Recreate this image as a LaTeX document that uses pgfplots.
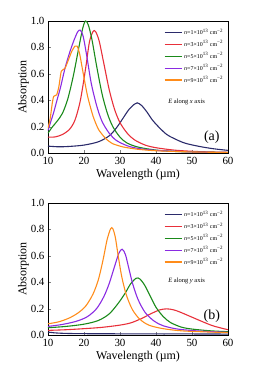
\documentclass[border=0pt]{standalone}
\usepackage{fontspec}
\setmainfont{Liberation Serif}
\usepackage{pgfplots}
\pgfplotsset{compat=1.18}
\definecolor{cnavy}{HTML}{2B2B6B}
\definecolor{cred}{HTML}{E8303A}
\definecolor{cgreen}{HTML}{1A8A1A}
\definecolor{cpurple}{HTML}{8A2BE2}
\definecolor{corange}{HTML}{FF8C1A}
\newcommand{\leg}[1]{\textit{n}=#1×10\textsuperscript{13} cm\textsuperscript{−2}}
\pgfplotsset{
  myaxis/.style={
    scale only axis, width=180bp, height=132bp,
    xmin=10, xmax=60, ymin=0, ymax=1,
    xtick={10,20,...,60}, ytick={0,0.2,...,1.0},
    yticklabel style={/pgf/number format/.cd, fixed, fixed zerofill, precision=1},
    /pgf/number format/assume math mode=true,
    tick align=inside, tick pos=left,
    major tick length=3bp,
    tick label style={font=\fontsize{11}{12}\selectfont},
    xticklabel style={yshift=-0.5bp},
    label style={font=\fontsize{12}{13}\selectfont},
    xlabel={Wavelength (µm)}, ylabel={Absorption},
    xlabel style={yshift=2bp},
    ylabel style={yshift=-5bp},
    legend style={draw=none, fill=none, at={(0.99,0.965)}, anchor=north east,
      font=\fontsize{6}{6.5}\selectfont, row sep=0.6bp, inner sep=1bp},
    legend cell align=left,
    legend image code/.code={\draw[#1] (0bp,0bp) -- (17bp,0bp);},
    every axis plot/.append style={line width=1.1pt, smooth},
  }
}
\begin{document}
\begin{tikzpicture}
\path[use as bounding box] (-48bp,-213bp) rectangle (215bp,153bp);
\begin{axis}[myaxis, at={(0,0)}, anchor=south west]
\addplot[cnavy] coordinates {(10,0.052) (13,0.047) (16,0.05) (20,0.06) (24,0.085) (27,0.13) (29,0.19) (31,0.27) (32.5,0.33) (34,0.37) (34.8,0.38) (36,0.36) (37.5,0.31) (39,0.25) (41,0.19) (43,0.14) (45,0.11) (48,0.075) (52,0.05) (56,0.032) (60,0.02)};
\addplot[cred] coordinates {(10,0.12) (12,0.122) (14,0.14) (16,0.18) (17.5,0.25) (19,0.4) (20.5,0.65) (21.5,0.84) (22.5,0.92) (23.2,0.92) (24.2,0.85) (25.5,0.68) (27,0.48) (28.5,0.33) (30,0.23) (32,0.15) (34,0.1) (37,0.06) (40,0.04) (45,0.022) (50,0.013) (55,0.008) (60,0.005)};
\addplot[cgreen] coordinates {(10,0.15) (11,0.19) (12.5,0.24) (14,0.3) (15.5,0.41) (17,0.58) (18.5,0.79) (19.6,0.94) (20.4,1.0) (21.2,0.97) (22.2,0.86) (23.5,0.66) (25,0.45) (26.5,0.3) (28,0.2) (30,0.12) (32,0.075) (35,0.045) (40,0.022) (45,0.012) (50,0.008) (60,0.004)};
\addplot[cpurple] coordinates {(10,0.17) (10.8,0.24) (11.5,0.3) (12.5,0.4) (13.5,0.5) (14.7,0.64) (16,0.76) (17.3,0.86) (18.3,0.92) (19,0.93) (19.8,0.88) (20.8,0.73) (22,0.53) (23.5,0.36) (25,0.24) (27,0.15) (29,0.095) (32,0.055) (35,0.035) (40,0.02) (50,0.008) (60,0.004)};
\addplot[corange, tension=0.35] coordinates {(10,0.19) (10.6,0.26) (11.2,0.38) (11.6,0.43) (12.4,0.44) (13,0.5) (13.7,0.62) (14.7,0.64) (15.6,0.7) (16.6,0.77) (17.5,0.81) (18.1,0.81) (18.8,0.75) (19.8,0.6) (21,0.43) (22.5,0.28) (24,0.18) (26,0.11) (28,0.07) (31,0.045) (35,0.028) (40,0.017) (50,0.008) (60,0.004)};
\legend{\leg{1},\leg{3},\leg{5},\leg{7},\leg{9}}
\node[font=\fontsize{6.5}{7}\selectfont] at (axis description cs:0.77,0.39) {\textit{E} along \textit{x} axis};
\node[font=\fontsize{14}{15}\selectfont] at (axis description cs:0.91,0.12) {(a)};
\end{axis}
\begin{axis}[myaxis, at={(0,-182bp)}, anchor=south west]
\addplot[cnavy] coordinates {(10,0.022) (12,0.016) (15,0.012) (20,0.01) (30,0.009) (40,0.008) (50,0.008) (60,0.007)};
\addplot[cred] coordinates {(10,0.035) (15,0.04) (20,0.048) (25,0.058) (30,0.075) (33,0.092) (36,0.125) (38.5,0.16) (41,0.19) (43,0.198) (45,0.19) (47,0.17) (50,0.135) (53,0.1) (56,0.068) (60,0.04)};
\addplot[cgreen] coordinates {(10,0.055) (15,0.065) (20,0.082) (24,0.11) (27,0.16) (29.5,0.24) (31.5,0.32) (33,0.39) (34.5,0.43) (35.5,0.425) (36.8,0.38) (38.3,0.3) (40,0.21) (42,0.14) (44,0.095) (47,0.06) (50,0.045) (55,0.032) (60,0.025)};
\addplot[cpurple] coordinates {(10,0.065) (14,0.08) (18,0.105) (21,0.14) (23.5,0.2) (25.5,0.29) (27,0.39) (28.5,0.52) (29.7,0.62) (30.6,0.65) (31.5,0.61) (32.5,0.5) (33.5,0.39) (35,0.27) (37,0.17) (39.5,0.105) (42,0.07) (46,0.045) (52,0.03) (60,0.02)};
\addplot[corange] coordinates {(10,0.085) (13,0.1) (16,0.13) (18.5,0.17) (20.5,0.22) (22.5,0.31) (24,0.42) (25.3,0.57) (26.4,0.72) (27.4,0.805) (28,0.805) (28.7,0.74) (29.5,0.6) (30.5,0.44) (31.8,0.3) (33.5,0.19) (35.5,0.12) (38,0.075) (42,0.048) (48,0.03) (60,0.018)};
\legend{\leg{1},\leg{3},\leg{5},\leg{7},\leg{9}}
\node[font=\fontsize{6.5}{7}\selectfont] at (axis description cs:0.77,0.41) {\textit{E} along \textit{y} axis};
\node[font=\fontsize{14}{15}\selectfont] at (axis description cs:0.91,0.14) {(b)};
\end{axis}
\end{tikzpicture}
\end{document}
